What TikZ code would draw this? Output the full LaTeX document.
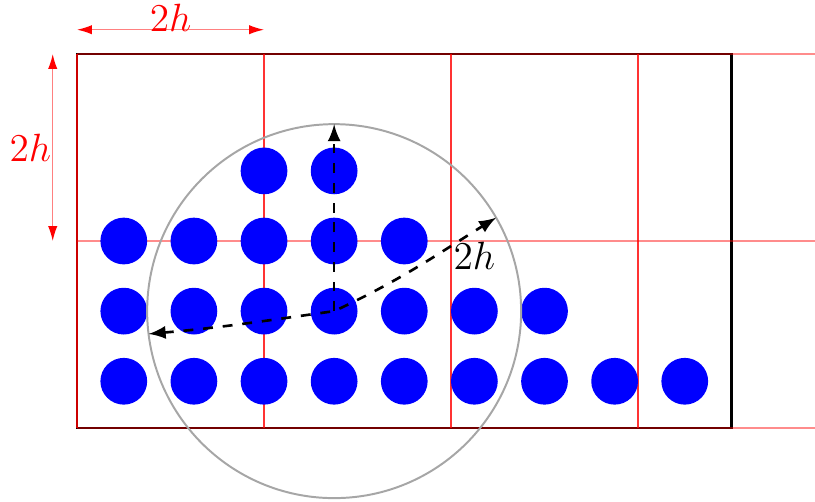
\documentclass[tikz,border=0pt]{standalone}
\usepackage{amsmath,amssymb}
\usepackage{tikz}
\usetikzlibrary{calc,arrows.meta}

\begin{document}
\begin{tikzpicture}[x=1cm,y=1cm,
  ball/.style={fill=blue},
  hline/.style={red,opacity=0.45},
  vline/.style={red,opacity=0.8},
  dimline/.style={red!50,{Latex[red,length=1.6mm,width=1mm]}-{Latex[red,length=1.6mm,width=1mm]}},
  dimlabel/.style={red,font=\fontsize{11.5}{13}\selectfont}]
\useasboundingbox (-0.824,-0.791) rectangle (7.893,4.578);
% box and grid
\draw[thick] (0,0) rectangle (7,4);
\foreach \y in {0,2,4}
  \draw[hline] (0,\y) -- (7.893,\y);
\foreach \x in {0,2,4,6}
  \draw[vline] (\x,0) -- (\x,4);
% balls
\foreach \i in {0,...,8}
  \fill[ball] (0.5+0.75*\i,0.5) circle (0.25);
\foreach \i in {0,...,6}
  \fill[ball] (0.5+0.75*\i,1.25) circle (0.25);
\foreach \i in {0,...,4}
  \fill[ball] (0.5+0.75*\i,2) circle (0.25);
\foreach \i in {2,3}
  \fill[ball] (0.5+0.75*\i,2.75) circle (0.25);
% support circle
\coordinate (c) at (2.75,1.25);
\draw[gray!70,semithick] (c) circle (2);
\coordinate (top) at ($(c)+(90:2)$);
\coordinate (lft) at ($(c)+(187:2)$);
\coordinate (rgt) at ($(c)+(30:2)$);
\draw[dashed,thick,-latex] (c) -- (top);
\draw[dashed,thick,latex-latex] (lft) to[out=5,in=188] (c) to[out=25,in=212] (rgt);
\node[font=\large] (lbl) at (4.25,1.84) {$2h$};
% dimensions
\coordinate (d1) at (0,4.26);
\coordinate (d2) at (2,4.26);
\draw[dimline] (d1) -- (d2);
\node[dimlabel,anchor=base,inner sep=0pt] (wd) at ($(d1)!0.5!(d2)+(0,-0.02)$) {$2h$};
\coordinate (d3) at (-0.26,2);
\coordinate (d4) at (-0.26,4);
\draw[dimline] (d3) -- (d4);
\node[dimlabel] (ht) at (-0.5,3) {$2h$};
\end{tikzpicture}
\end{document}
